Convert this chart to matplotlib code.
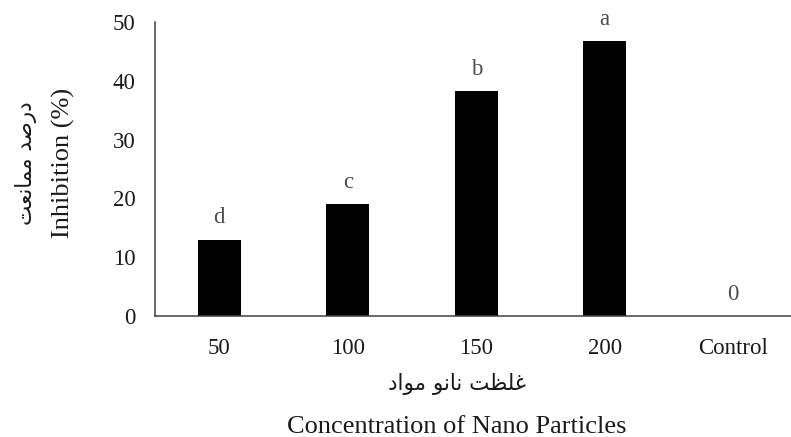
import matplotlib
matplotlib.use("Agg")
import matplotlib.pyplot as plt

categories = ["50", "100", "150", "200", "Control"]
values = [13.0, 19.0, 38.3, 46.8, 0.0]
letters = ["d", "c", "b", "a", "0"]
yticks = [0, 10, 20, 30, 40, 50]

# Persian labels (Arabic presentation forms, visual order)
fa_ylabel = "\uFE96\uFECC\uFEE7\uFE8E\uFEE4\uFEE3 \uFEAA\uFEBB\uFEAD\uFEA9"   # درصد ممانعت
fa_xlabel = "\uFEA9\uFE8D\uFEEE\uFEE3 \uFEEE\uFEE7\uFE8E\uFEE7 \uFE96\uFEC8\uFEE0\uFECF"  # غلظت نانو مواد
en_ylabel = "Inhibition (%)"
en_xlabel = "Concentration of Nano Particles"

serif = ["Liberation Serif", "DejaVu Serif"]
arab = ["DejaVu Sans"]

fig = plt.figure(figsize=(7.91, 4.37), dpi=100)
ax = fig.add_axes([155 / 791, 1 - 316 / 437, 642.5 / 791, 294 / 437])

x = list(range(len(categories)))
ax.bar(x, values, width=0.335, color="black")
for xi, v, lab in zip(x, values, letters):
    ax.annotate(lab, (xi, v), xytext=(0, 8), textcoords="offset points",
                ha="center", va="bottom", fontsize=16.5, color="#4d4d4d",
                family=serif)

ax.set_xlim(-0.5, 4.5)
ax.set_ylim(0, 50)
ax.set_yticks(yticks)
ax.set_yticklabels([str(t) for t in yticks], family=serif, fontsize=16.5)
ax.set_xticks(x)
ax.set_xticklabels(categories, family=serif, fontsize=16.5)
ax.tick_params(axis="both", length=0, colors="#1a1a1a")
ax.tick_params(axis="y", pad=14)
ax.tick_params(axis="x", pad=15.5)
for s in ["top", "right"]:
    ax.spines[s].set_visible(False)
for s in ["left", "bottom"]:
    ax.spines[s].set_color("#404040")
    ax.spines[s].set_linewidth(1.1)

fig.text(63 / 791, 1 - 163 / 437, en_ylabel, rotation=90, ha="center", va="center",
         family=serif, fontsize=19, color="#1a1a1a")
fig.text(26 / 791, 1 - 163 / 437, fa_ylabel, rotation=90, ha="center", va="center",
         family=arab, fontsize=15.5, color="#1a1a1a")
fig.text(457 / 791, 1 - 384 / 437, fa_xlabel, ha="center", va="center",
         family=arab, fontsize=15.5, color="#1a1a1a")
fig.text(457 / 791, 1 - 433 / 437, en_xlabel, ha="center", va="baseline",
         family=serif, fontsize=19, color="#1a1a1a")

fig.savefig("out.png", dpi=100)
